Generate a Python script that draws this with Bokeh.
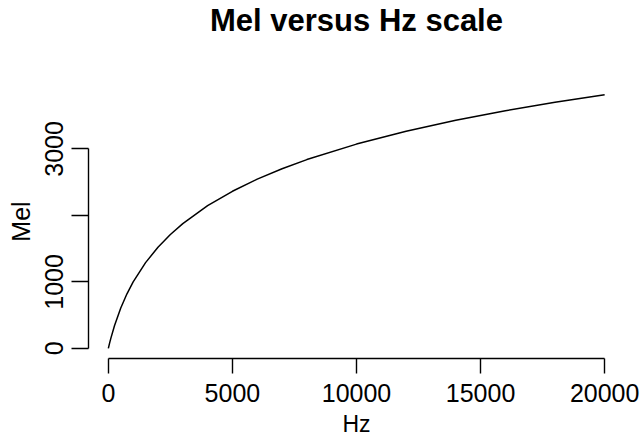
from bokeh.plotting import figure
from bokeh.models import FixedTicker, Range1d, ColumnDataSource, Title
from bokeh.embed import file_html
from bokeh.resources import INLINE

# Data (Hz -> Mel)
hz = [0, 50, 100, 250, 500, 750, 1000, 1500, 2000, 2500, 3000, 4000, 5000,
      6000, 7000, 8000, 10000, 12000, 14000, 16000, 18000, 20000]
mel = [0, 78, 150, 344, 607, 821, 1000, 1290, 1521, 1713, 1876, 2146, 2363,
       2546, 2702, 2840, 3073, 3266, 3431, 3575, 3702, 3817]

x_ticks = [0, 5000, 10000, 15000, 20000]
y_ticks = [0, 1000, 2000, 3000]
title_text = "Mel versus Hz scale"
x_label = "Hz"
y_label = "Mel"

FONT = "Liberation Sans"

W, H = 642, 439
BL, BR, BT, BB = 88, 18, 84, 81

xmin, xmax = min(hz), max(hz)
ymin, ymax = min(mel), max(mel)
xpad = 0.04 * (xmax - xmin)
ypad = 0.04 * (ymax - ymin)

p = figure(width=W, height=H, output_backend="svg", toolbar_location=None,
           title=None,
           x_range=Range1d(xmin - xpad, xmax + xpad),
           y_range=Range1d(ymin - ypad, ymax + ypad),
           min_border_left=BL, min_border_right=BR,
           min_border_top=BT, min_border_bottom=BB)

# spacer panel between frame and title (keeps the title near the top edge)
spacer = Title(text=" ", text_font=FONT, text_font_size="10px", standoff=32)
p.add_layout(spacer, "above")
main_title = Title(text=title_text, text_font=FONT, text_font_size="31px",
                   text_font_style="bold", text_color="black",
                   align="center", vertical_align="top", standoff=0)
p.add_layout(main_title, "above")

p.outline_line_color = None
p.xgrid.visible = False
p.ygrid.visible = False
p.background_fill_color = "white"
p.border_fill_color = "white"

src = ColumnDataSource(dict(hz=hz, mel=mel))
p.line("hz", "mel", source=src, line_color="black", line_width=1.5)

for ax, ticks in ((p.xaxis[0], x_ticks), (p.yaxis[0], y_ticks)):
    ax.ticker = FixedTicker(ticks=ticks)
    ax.bounds = (min(ticks), max(ticks))
    ax.minor_tick_line_color = None
    ax.major_tick_in = 0
    ax.axis_line_color = "black"
    ax.axis_line_width = 1.4
    ax.major_tick_line_color = "black"
    ax.major_tick_line_width = 1.4
    ax.major_label_text_font = FONT
    ax.major_label_text_font_size = "25px"
    ax.major_label_text_color = "black"
    ax.major_label_text_line_height = 1.0
    ax.axis_label_text_font = FONT
    ax.axis_label_text_font_size = "23px"
    ax.axis_label_text_font_style = "normal"
    ax.axis_label_text_color = "black"
    ax.axis_label_text_line_height = 1.0

p.xaxis[0].axis_label = x_label
p.xaxis[0].major_tick_out = 15
p.xaxis[0].major_label_standoff = 10
p.xaxis[0].axis_label_standoff = 6

p.yaxis[0].axis_label = y_label
p.yaxis[0].axis_label_text_font_size = "25px"
p.yaxis[0].major_tick_out = 17
p.yaxis[0].major_label_standoff = 8
p.yaxis[0].axis_label_standoff = 8
p.yaxis[0].major_label_orientation = "vertical"
p.yaxis[0].major_label_overrides = {2000: ""}

open("out.html", "w").write(file_html(p, INLINE))
